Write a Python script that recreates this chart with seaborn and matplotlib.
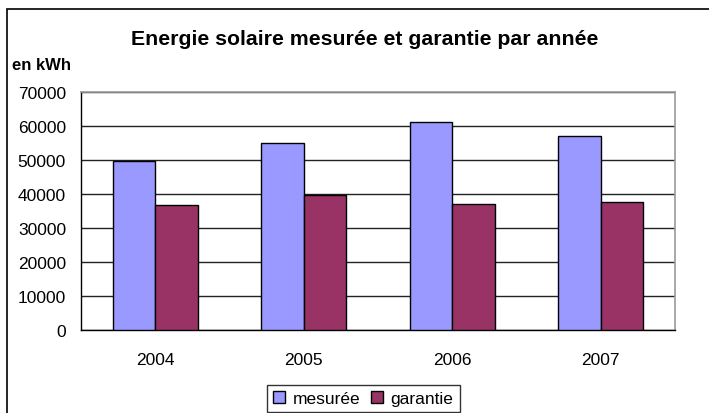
import matplotlib
matplotlib.use('Agg')
import matplotlib.pyplot as plt
import matplotlib.patches as mpatches
import seaborn as sns
import pandas as pd
import numpy as np

# donnees
annees = ['2004', '2005', '2006', '2007']
mesuree = [49600, 54900, 61200, 57100]
garantie = [36800, 39800, 37200, 37700]
series = ['mesurée', 'garantie']
couleurs = ['#9999FF', '#993366']

df = pd.DataFrame({
    'annee': annees * 2,
    'valeur': mesuree + garantie,
    'serie': [series[0]] * len(annees) + [series[1]] * len(annees),
})

sns.set_style('white')
plt.rcParams['font.family'] = ['Liberation Sans', 'DejaVu Sans']
plt.rcParams['text.color'] = 'black'
plt.rcParams['xtick.color'] = 'black'
plt.rcParams['ytick.color'] = 'black'

W, H = 709, 414
fig = plt.figure(figsize=(W / 100, H / 100), dpi=100)
ax = fig.add_axes([81 / W, 1 - 331 / H, (675 - 81) / W, (331 - 93) / H])

sns.barplot(data=df, x='annee', y='valeur', hue='serie', palette=couleurs,
            width=0.575, edgecolor='black', linewidth=1, saturation=1, ax=ax,
            legend=False, zorder=3)

ax.set_ylim(0, 70000)
ax.set_xlim(-0.5, 3.5)
ax.set_yticks(np.arange(0, 70001, 10000))
ax.yaxis.grid(True, color='#222222', linewidth=1)
ax.set_axisbelow(True)
ax.set_xlabel('')
ax.set_ylabel('')

# ticks de l'axe x entre les categories
ax.set_xticks(np.arange(-0.5, 4, 1), minor=True)
ax.tick_params(axis='x', which='major', length=0, pad=16, labelsize=12.5)
ax.tick_params(axis='x', which='minor', length=4.3, width=1, direction='out')
ax.tick_params(axis='y', length=4.3, width=1, direction='out', labelsize=12.5, pad=6.5)

for s in ['left', 'bottom']:
    ax.spines[s].set_color('black')
    ax.spines[s].set_linewidth(1)
for s in ['top', 'right']:
    ax.spines[s].set_color('#999999')
    ax.spines[s].set_linewidth(1.2)

# cadre du graphique
fig.patches.append(mpatches.Rectangle((7 / W, -0.1), 1.1, 1 - 10 / H + 0.1,
                                      transform=fig.transFigure, fill=False,
                                      edgecolor='black', linewidth=1.2))

fig.text(365 / W, 1 - 45 / H, 'Energie solaire mesurée et garantie par année',
         ha='center', va='baseline', fontsize=15.3, fontweight='bold')
fig.text(12 / W, 1 - 70 / H, 'en kWh', ha='left', va='baseline', fontsize=12, fontweight='bold')

handles = [mpatches.Patch(facecolor=c, edgecolor='black', label=l) for c, l in zip(couleurs, series)]
leg = fig.legend(handles=handles, loc='upper center', bbox_to_anchor=(363 / W, 1 - 386 / H),
                 ncol=2, frameon=True, fancybox=False, fontsize=12.5, handlelength=0.7,
                 handleheight=0.7, handletextpad=0.45, columnspacing=0.6,
                 borderpad=0.35, borderaxespad=0)
leg.get_frame().set_edgecolor('black')
leg.get_frame().set_linewidth(1)

fig.savefig('out.png', dpi=100)
